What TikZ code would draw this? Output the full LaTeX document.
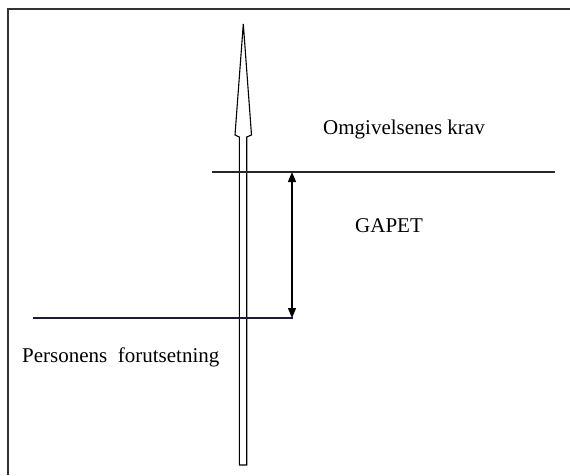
\documentclass[tikz,border=0pt]{standalone}
\usepackage{fontspec}
\setmainfont{Liberation Serif}
\usetikzlibrary{arrows.meta}
\definecolor{navyline}{HTML}{1C1C3C}
\begin{document}
\begin{tikzpicture}[x=1pt,y=-1pt,
  lbl/.style={anchor=base west,inner sep=0pt,font=\fontsize{21}{25}\selectfont},
  frameline/.style={line width=1.6pt,black!80},
  level/.style={line width=1.2pt},
  gaparrow/.style={line width=1.3pt,{Triangle[length=10pt,width=8pt]}-{Triangle[length=10pt,width=8pt]}},
  bigarrow/.style={line width=1.1pt,line join=miter}]
\useasboundingbox (0,0) rectangle (570,475);
% frame (top and left only)
\coordinate (fTL) at (8,9);
\coordinate (fTR) at (570,9);
\coordinate (fBL) at (8,475);
\draw[frameline] (fTR) -- (fTL) -- (fBL);
% upward hollow arrow
\draw[bigarrow,fill=white] (243.3,24) -- (235,135) -- (239.3,137) -- (239.3,465)
  -- (246.7,465) -- (246.7,137) -- (251.5,135) -- cycle;
% level lines
\coordinate (uL) at (212,172);
\coordinate (uR) at (555,172);
\coordinate (lL) at (33,318);
\coordinate (lR) at (293,318);
\draw[level,black!85] (uL) -- (uR);
\draw[level,navyline] (lL) -- (lR);
% gap arrow
\coordinate (gTop) at (292,172);
\coordinate (gBot) at (292,318);
\draw[gaparrow] (gTop) -- (gBot);
% labels
\node[lbl] (omg) at (323,134) {Omgivelsenes krav};
\node[lbl] (gap) at (355,232) {GAPET};
\node[lbl] (pers) at (22,362) {Personens\ \ forutsetning};
\end{tikzpicture}
\end{document}
